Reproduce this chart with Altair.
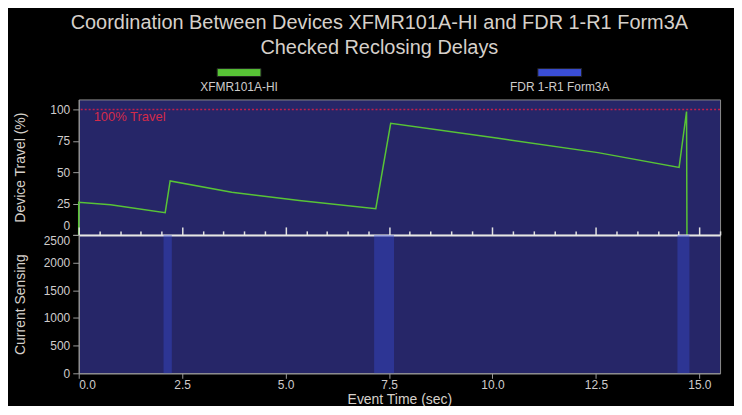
import altair as alt
import pandas as pd

# ---------------- data ----------------
title_lines = ["Coordination Between Devices XFMR101A-HI and FDR 1-R1 Form3A",
               "Checked Reclosing Delays"]
series_names = ["XFMR101A-HI", "FDR 1-R1 Form3A"]
series_colors = ["#58c436", "#3a4ed6"]

# XFMR101A-HI device travel (%) vs event time (sec)
travel_time = [0.0, 0.0, 0.77, 2.09, 2.21, 3.7, 5.33, 7.18, 7.54, 10.14, 12.55, 14.51, 14.69, 14.70]
travel_pct = [0.0, 26.0, 24.0, 17.7, 43.0, 34.0, 27.4, 20.9, 89.0, 77.0, 65.6, 53.8, 98.4, 0.0]

# FDR 1-R1 Form3A current sensing intervals
sense_start = [2.05, 7.14, 14.47]
sense_end = [2.25, 7.62, 14.76]
sense_level = [2500, 2500, 2500]

limit_value = [100]
limit_label = ["100% Travel"]

x_ticks = [0.0, 2.5, 5.0, 7.5, 10.0, 12.5, 15.0]
x_minor_ticks = [i / 2 for i in range(32)]
travel_ticks = [0, 25, 50, 75, 100]
sense_ticks = [0, 500, 1000, 1500, 2000, 2500]

# ---------------- tables ----------------
travel_df = pd.DataFrame({"i": range(len(travel_time)), "t": travel_time, "v": travel_pct})
sense_df = pd.DataFrame({"start": sense_start, "end": sense_end, "level": sense_level})
limit_df = pd.DataFrame({"v": limit_value, "label": limit_label})
legend_df = pd.DataFrame({"name": series_names})

W = 644
FONT = "Liberation Sans"
LABEL = "#cfcccc"
TITLE = "#d6d0ca"
AXISC = "#9a9a9a"

x_scale = alt.Scale(domain=[0, 15.5], nice=False, zero=False)

# ---------------- legend ----------------
leg_scale = alt.Scale(domain=series_names, paddingInner=0.8634, paddingOuter=0.4317)
swatch = alt.Chart(legend_df).mark_rect(strokeWidth=1, stroke="#222").encode(
    x=alt.X("name:N", scale=leg_scale, axis=None, sort=series_names),
    y=alt.value(5), y2=alt.value(13),
    color=alt.Color("name:N", scale=alt.Scale(domain=series_names, range=series_colors), legend=None),
)
swatch_lab = alt.Chart(legend_df).mark_text(color=LABEL, fontSize=12, baseline="middle", font=FONT).encode(
    x=alt.X("name:N", scale=leg_scale, axis=None, sort=series_names),
    y=alt.value(24),
    text="name:N",
)
legend = alt.layer(swatch, swatch_lab).properties(width=W, height=36, view=alt.ViewConfig(fill="black", stroke=None))

# ---------------- top panel ----------------
top_axis = alt.Axis(values=travel_ticks, title="Device Travel (%)", titleX=-58, titleBaseline="middle",
                    format="d", labelOverlap=False,
                    labelBaseline={"condition": {"test": "datum.value === 0", "value": "bottom"}, "value": "middle"},
                    labelOffset={"condition": {"test": "datum.value === 0", "value": -2}, "value": 0})
top_y = alt.Scale(domain=[0, 108], nice=False)

line = alt.Chart(travel_df).mark_line(color=series_colors[0], strokeWidth=1.5).encode(
    x=alt.X("t:Q", scale=x_scale, axis=None),
    y=alt.Y("v:Q", scale=top_y, axis=top_axis),
    order="i:Q",
)
rule = alt.Chart(limit_df).mark_rule(color="#c0204c", strokeDash=[2, 2], strokeWidth=1.5).encode(
    y=alt.Y("v:Q", scale=top_y, axis=top_axis))
rule_text = alt.Chart(limit_df).mark_text(color="#d42a4a", fontSize=13, align="left", baseline="middle",
                                          dy=8, font=FONT).encode(
    x=alt.value(15), y=alt.Y("v:Q", scale=top_y, axis=top_axis), text="label:N")
top = alt.layer(line, rule, rule_text).properties(width=W, height=136)

# ---------------- bottom panel ----------------
bands = alt.Chart(sense_df).mark_rect(color=series_colors[1], opacity=0.4).encode(
    x=alt.X("start:Q", scale=x_scale,
            axis=alt.Axis(orient="bottom", values=x_ticks, format=".1f", title="Event Time (sec)",
                          tickSize=5, labelPadding=1, titlePadding=2)),
    x2="end:Q",
    y=alt.Y("level:Q", scale=alt.Scale(domain=[0, 2500], nice=False),
            axis=alt.Axis(values=sense_ticks, title="Current Sensing", titleX=-58, titleBaseline="middle",
                          format="d", labelOverlap=False,
                          labelBaseline={"condition": {"test": "datum.value === 2500", "value": "top"}, "value": "middle"},
                          labelOffset={"condition": {"test": "datum.value === 2500", "value": 1}, "value": 0})),
    y2=alt.datum(0),
)
ticks_top = alt.Chart(sense_df).mark_rect(opacity=0).encode(
    x=alt.X("start:Q", scale=x_scale,
            axis=alt.Axis(orient="top", values=x_minor_ticks, labels=False, title=None,
                          domainColor="#e6e6e6", domainWidth=2, tickColor="#e0e0e0", tickWidth=1.5,
                          tickSize={"condition": {"test": "datum.value % 2.5 === 0", "value": 8}, "value": 4})),
    x2="end:Q",
)
bottom = alt.layer(bands, ticks_top).resolve_axis(x="independent").properties(width=W, height=139)

chart = alt.vconcat(legend, top, bottom, spacing=0, bounds="flush").properties(
    title=alt.TitleParams(title_lines, fontSize=20, color=TITLE, fontWeight="normal", lineHeight=25,
                          anchor="middle", frame="bounds", offset=6, font=FONT, dx=12),
    padding={"left": 5, "top": 4, "right": 12, "bottom": -2},
    background="black",
).configure_view(fill="#262668", stroke="#8c8c8c").configure_axis(
    labelColor=LABEL, titleColor=TITLE, labelFont=FONT, titleFont=FONT, labelFontSize=12,
    titleFontSize=14, titleFontWeight="normal", domainColor=AXISC, tickColor=AXISC, grid=False,
    tickSize=6, labelPadding=3,
)

chart.save("out.html", embed_options={"renderer": "svg", "actions": False})
